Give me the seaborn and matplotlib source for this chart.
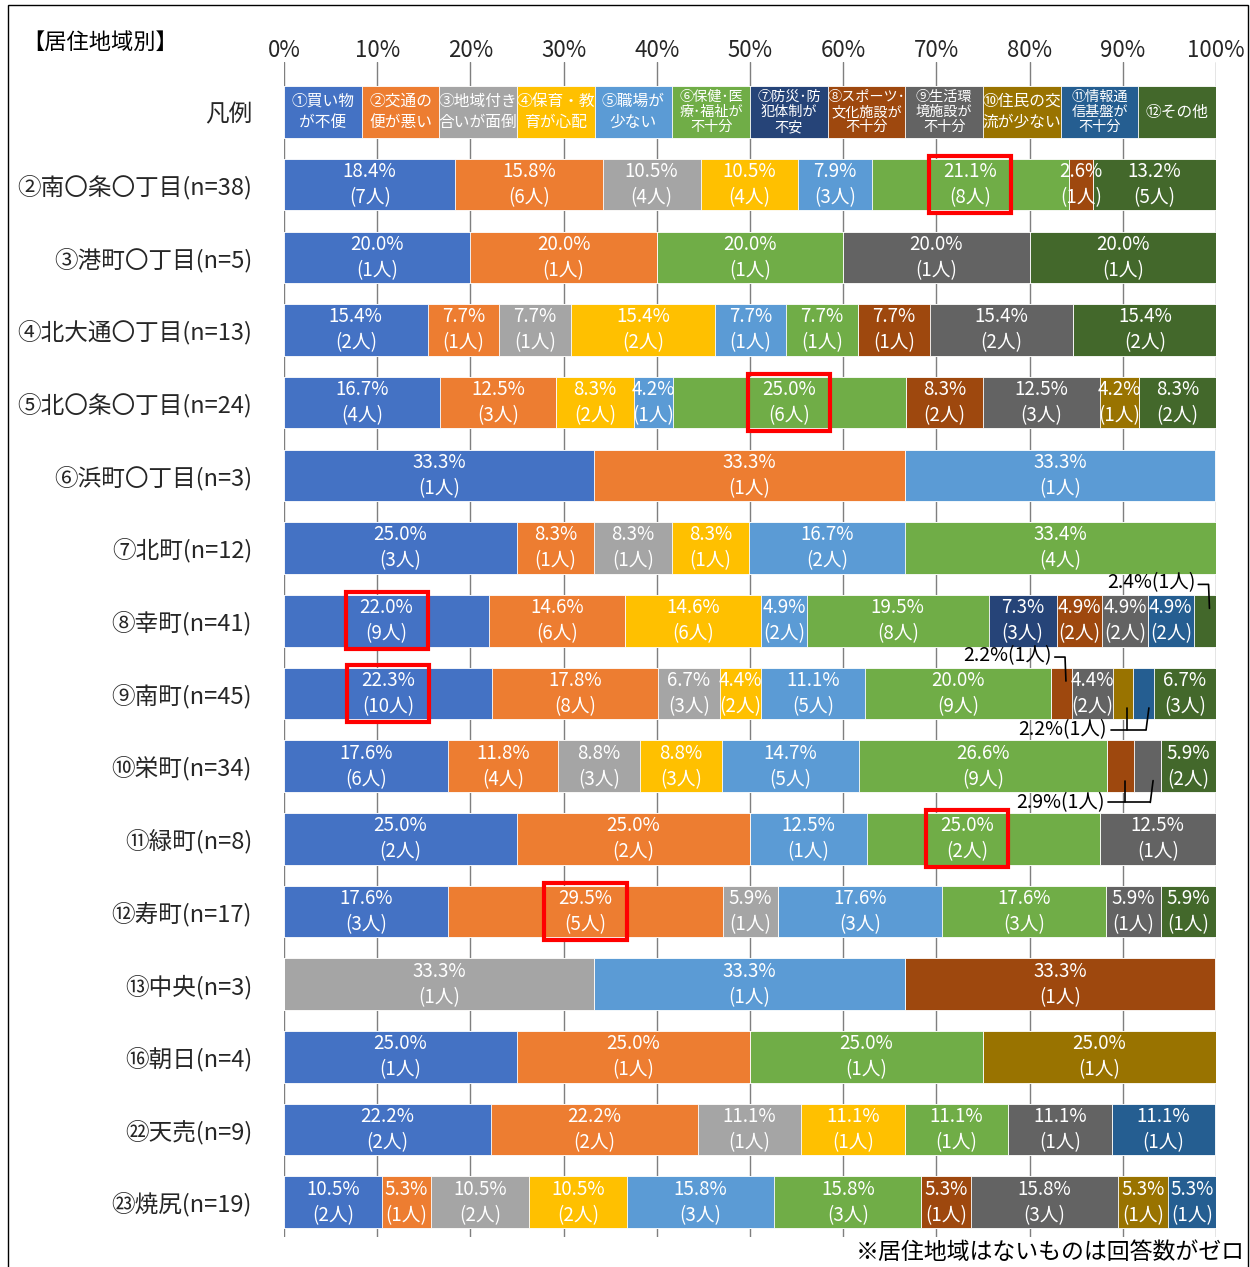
import numpy as np
import pandas as pd
import matplotlib
matplotlib.use("Agg")
import matplotlib.pyplot as plt
from matplotlib.patches import Rectangle
import seaborn as sns

# ---- data -------------------------------------------------------------
regions = ["②南〇条〇丁目(n=38)", "③港町〇丁目(n=5)", "④北大通〇丁目(n=13)",
           "⑤北〇条〇丁目(n=24)", "⑥浜町〇丁目(n=3)", "⑦北町(n=12)",
           "⑧幸町(n=41)", "⑨南町(n=45)", "⑩栄町(n=34)", "⑪緑町(n=8)",
           "⑫寿町(n=17)", "⑬中央(n=3)", "⑯朝日(n=4)", "㉒天売(n=9)",
           "㉓焼尻(n=19)"]

categories = ["①買い物\nが不便", "②交通の\n便が悪い", "③地域付き\n合いが面倒",
              "④保育・教\n育が心配", "⑤職場が\n少ない", "⑥保健･医\n療･福祉が\n不十分",
              "⑦防災･防\n犯体制が\n不安", "⑧スポーツ･\n文化施設が\n不十分",
              "⑨生活環\n境施設が\n不十分", "⑩住民の交\n流が少ない",
              "⑪情報通\n信基盤が\n不十分", "⑫その他"]

colors = ["#4472C4", "#ED7D31", "#A5A5A5", "#FFC000", "#5B9BD5", "#70AD47",
          "#264478", "#9E480E", "#636363", "#997300", "#255E91", "#43682B"]

# percentage per category, one value per region (same order as `regions`)
pct_c1 = [18.4, 20.0, 15.4, 16.7, 33.3, 25.0, 22.0, 22.3, 17.6, 25.0, 17.6, 0.0, 25.0, 22.2, 10.5]
pct_c2 = [15.8, 20.0, 7.7, 12.5, 33.3, 8.3, 14.6, 17.8, 11.8, 25.0, 29.5, 0.0, 25.0, 22.2, 5.3]
pct_c3 = [10.5, 0.0, 7.7, 0.0, 0.0, 8.3, 0.0, 6.7, 8.8, 0.0, 5.9, 33.3, 0.0, 11.1, 10.5]
pct_c4 = [10.5, 0.0, 15.4, 8.3, 0.0, 8.3, 14.6, 4.4, 8.8, 0.0, 0.0, 0.0, 0.0, 11.1, 10.5]
pct_c5 = [7.9, 0.0, 7.7, 4.2, 33.3, 16.7, 4.9, 11.1, 14.7, 12.5, 17.6, 33.3, 0.0, 0.0, 15.8]
pct_c6 = [21.1, 20.0, 7.7, 25.0, 0.0, 33.4, 19.5, 20.0, 26.6, 25.0, 17.6, 0.0, 25.0, 11.1, 15.8]
pct_c7 = [0.0, 0.0, 0.0, 0.0, 0.0, 0.0, 7.3, 0.0, 0.0, 0.0, 0.0, 0.0, 0.0, 0.0, 0.0]
pct_c8 = [2.6, 0.0, 7.7, 8.3, 0.0, 0.0, 4.9, 2.2, 2.9, 0.0, 0.0, 33.3, 0.0, 0.0, 5.3]
pct_c9 = [0.0, 20.0, 15.4, 12.5, 0.0, 0.0, 4.9, 4.4, 2.9, 12.5, 5.9, 0.0, 0.0, 11.1, 15.8]
pct_c10 = [0.0, 0.0, 0.0, 4.2, 0.0, 0.0, 0.0, 2.2, 0.0, 0.0, 0.0, 0.0, 25.0, 0.0, 5.3]
pct_c11 = [0.0, 0.0, 0.0, 0.0, 0.0, 0.0, 4.9, 2.2, 0.0, 0.0, 0.0, 0.0, 0.0, 11.1, 5.3]
pct_c12 = [13.2, 20.0, 15.4, 8.3, 0.0, 0.0, 2.4, 6.7, 5.9, 0.0, 5.9, 0.0, 0.0, 0.0, 0.0]

# number of respondents per category
cnt_c1 = [7, 1, 2, 4, 1, 3, 9, 10, 6, 2, 3, 0, 1, 2, 2]
cnt_c2 = [6, 1, 1, 3, 1, 1, 6, 8, 4, 2, 5, 0, 1, 2, 1]
cnt_c3 = [4, 0, 1, 0, 0, 1, 0, 3, 3, 0, 1, 1, 0, 1, 2]
cnt_c4 = [4, 0, 2, 2, 0, 1, 6, 2, 3, 0, 0, 0, 0, 1, 2]
cnt_c5 = [3, 0, 1, 1, 1, 2, 2, 5, 5, 1, 3, 1, 0, 0, 3]
cnt_c6 = [8, 1, 1, 6, 0, 4, 8, 9, 9, 2, 3, 0, 1, 1, 3]
cnt_c7 = [0, 0, 0, 0, 0, 0, 3, 0, 0, 0, 0, 0, 0, 0, 0]
cnt_c8 = [1, 0, 1, 2, 0, 0, 2, 1, 1, 0, 0, 1, 0, 0, 1]
cnt_c9 = [0, 1, 2, 3, 0, 0, 2, 2, 1, 1, 1, 0, 0, 1, 3]
cnt_c10 = [0, 0, 0, 1, 0, 0, 0, 1, 0, 0, 0, 0, 1, 0, 1]
cnt_c11 = [0, 0, 0, 0, 0, 0, 2, 1, 0, 0, 0, 0, 0, 1, 1]
cnt_c12 = [5, 1, 2, 2, 0, 0, 1, 3, 2, 0, 1, 0, 0, 0, 0]

pct = [pct_c1, pct_c2, pct_c3, pct_c4, pct_c5, pct_c6,
       pct_c7, pct_c8, pct_c9, pct_c10, pct_c11, pct_c12]
cnt = [cnt_c1, cnt_c2, cnt_c3, cnt_c4, cnt_c5, cnt_c6,
       cnt_c7, cnt_c8, cnt_c9, cnt_c10, cnt_c11, cnt_c12]

# highlighted cells (region, category index) framed in red
highlights = [("②南〇条〇丁目(n=38)", 5), ("⑤北〇条〇丁目(n=24)", 5),
              ("⑧幸町(n=41)", 0), ("⑨南町(n=45)", 0),
              ("⑪緑町(n=8)", 5), ("⑫寿町(n=17)", 1)]

# small segments labelled with a callout instead of an inline label
callout_above = {("⑧幸町(n=41)", 11), ("⑨南町(n=45)", 7)}
callout_below = {("⑨南町(n=45)", (9, 10)), ("⑩栄町(n=34)", (7, 8))}
no_inline = {("⑧幸町(n=41)", 11), ("⑨南町(n=45)", 7), ("⑨南町(n=45)", 9),
             ("⑨南町(n=45)", 10), ("⑩栄町(n=34)", 7), ("⑩栄町(n=34)", 8)}
label_shift = {("⑪緑町(n=8)", 5): -1.7}

legend_label = "凡例"
legend_share = [100 / 12] * 12

# ---- figure -----------------------------------------------------------
sns.set_theme(style="white")
CJK = ["Noto Sans CJK JP", "DejaVu Sans"]
plt.rcParams["font.family"] = CJK

W, H = 1250, 1267
fig = plt.figure(figsize=(W / 100, H / 100), dpi=100)
ax_left, ax_right = 284 / W, 1216 / W
ax_top, ax_bot = 62, 1237
ax = fig.add_axes([ax_left, 1 - ax_bot / H, ax_right - ax_left, (ax_bot - ax_top) / H])

rows = [legend_label] + regions
n_rows = len(rows)

# cumulative widths per category, drawn widest first so each segment shows
table = {}
for k in range(12):
    table[k] = [legend_share[k]] + [pct[k][i] for i in range(len(regions))]
cum = np.cumsum(np.array([table[k] for k in range(12)]), axis=0)

for k in reversed(range(12)):
    df = pd.DataFrame({"row": rows, "cum": cum[k]})
    sns.barplot(data=df, x="cum", y="row", order=rows, orient="h",
                color=colors[k], saturation=1, width=0.71, errorbar=None,
                edgecolor="white", linewidth=0.6, ax=ax, zorder=2)

ax.set_xlim(0, 100)
ax.set_ylim(n_rows - 1 + 0.48, -0.688)
ax.set_xlabel("")
ax.set_ylabel("")
for s in ax.spines.values():
    s.set_visible(False)

ticks = list(range(0, 101, 10))
ax.set_xticks(ticks)
ax.set_xticklabels([f"{t}%" for t in ticks], fontsize=16)
ax.xaxis.tick_top()
ax.tick_params(axis="x", length=0, pad=0)
ax.tick_params(axis="y", length=0, pad=23, labelsize=17)
ax.set_yticks(range(n_rows))
ax.set_yticklabels(rows, va="center_baseline")
ax.set_axisbelow(True)
ax.xaxis.grid(True, color="#7f7f7f", linewidth=1.0, zorder=0)
ax.yaxis.grid(False)

# legend row text
starts = cum - np.array([table[k] for k in range(12)])
for k in range(12):
    xc = starts[k][0] + legend_share[k] / 2
    nlines = categories[k].count("\n") + 1
    fs = 10.2 if nlines == 3 else 11.3
    ls = 1.08 if nlines == 3 else 1.35
    ax.text(xc, 0, categories[k], ha="center", va="center", color="white",
            fontsize=fs, linespacing=ls, zorder=4)

# inline value labels
centers = {}
for i, r in enumerate(regions):
    for k in range(12):
        v = pct[k][i]
        if v <= 0:
            continue
        xc = starts[k][i + 1] + v / 2
        centers[(r, k)] = xc
        if (r, k) in no_inline:
            continue
        xc += label_shift.get((r, k), 0)
        centers[(r, k)] = xc
        ax.text(xc, i + 1, f"{v:.1f}%\n({cnt[k][i]}人)", ha="center",
                va="center", color="white", fontsize=13.5, linespacing=1.32,
                zorder=4)

# red frames around the largest shares
for r, k in highlights:
    y = rows.index(r)
    ax.add_patch(Rectangle((centers[(r, k)] - 4.4, y - 0.39), 8.8, 0.78,
                           fill=False, edgecolor="#FF0000", linewidth=3.0,
                           zorder=5))

# callouts above the bar
for r, k in callout_above:
    i = regions.index(r)
    y = i + 1
    xc = centers[(r, k)]
    v, c = pct[k][i], cnt[k][i]
    ax.text(xc - 1.0, y - 0.52, f"{v:.1f}%({c}人)", ha="right", va="center",
            color="black", fontsize=14, zorder=4)
    ax.plot([xc - 0.7, xc + 0.4, xc + 0.5], [y - 0.5, y - 0.5, y - 0.17],
            color="black", linewidth=1.2, zorder=6, clip_on=False)

# callouts below the bar, one label shared by two segments
for r, (k1, k2) in callout_below:
    i = regions.index(r)
    y = i + 1
    x1, x2 = centers[(r, k1)], centers[(r, k2)]
    v, c = pct[k1][i], cnt[k1][i]
    ax.text(x1 - 1.7, y + 0.5, f"{v:.1f}%({c}人)", ha="right", va="center",
            color="black", fontsize=14, zorder=4)
    ax.plot([x1 - 1.3, x2 + 0.3], [y + 0.5, y + 0.5], color="black",
            linewidth=1.2, zorder=6)
    ax.plot([x1 + 0.5, x1 + 0.5], [y + 0.5, y + 0.2], color="black",
            linewidth=1.2, zorder=6)
    ax.plot([x2 + 0.3, x2 + 0.6], [y + 0.5, y + 0.2], color="black",
            linewidth=1.2, zorder=6)

# title, footnote and frame
fig.text(22 / W, 1 - 42 / H, "【居住地域別】", ha="left", va="center",
         fontsize=16, color="black")
fig.text(1245 / W, 1 - 1252 / H, "※居住地域はないものは回答数がゼロ",
         ha="right", va="center", fontsize=16.5, color="black")
fig.patches.append(Rectangle((8 / W, -0.01), 1240 / W, 1 - 5 / H + 0.01,
                             transform=fig.transFigure, fill=False,
                             edgecolor="black", linewidth=1.0))

fig.savefig("out.png", dpi=100)
